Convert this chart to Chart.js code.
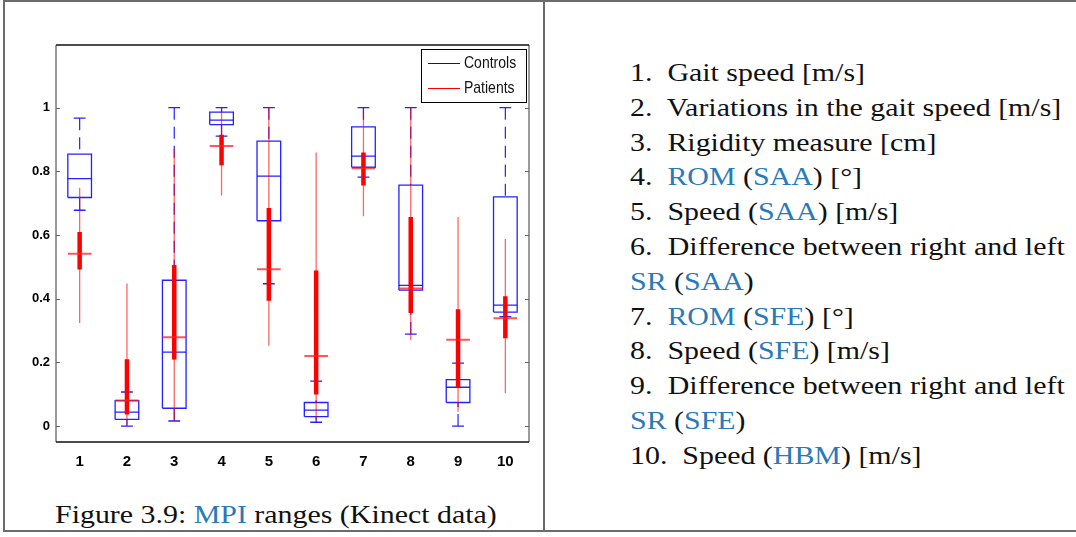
<!DOCTYPE html>
<html>
<head>
<meta charset="utf-8">
<script src="https://cdn.jsdelivr.net/npm/chart.js@4.4.1/dist/chart.umd.min.js"></script>
<style>
  body { margin: 0; background: #fff; }
  #page { position: relative; width: 1076px; height: 537px; overflow: hidden; }
  #frame { position: absolute; left: 3px; top: 0; width: 1080px; height: 528px; border: 2px solid #6b6b6b; border-right: none; }
  #divider { position: absolute; left: 543px; top: 0; width: 2px; height: 532px; background: #6b6b6b; }
  #chart { position: absolute; left: 0; top: 0; }
  .serif { font-family: "Liberation Serif", serif; font-size: 26px; color: #111; transform-origin: 0 0; transform: scaleX(1.15); }
  .acr { color: #2a7ab8; }
  #caption { position: absolute; left: 55px; top: 500px; white-space: nowrap; }
  #list { position: absolute; left: 630px; top: 56px; width: 378px; line-height: 34.8px; }
  #list div { white-space: nowrap; }
  #list .just { text-align: justify; text-align-last: justify; white-space: normal; }
</style>
</head>
<body>
<div id="page">
  <div id="frame"></div>
  <div id="divider"></div>
  <canvas id="chart" width="544" height="480"></canvas>
  <div id="caption" class="serif">Figure 3.9: <span class="acr">MPI</span> ranges (Kinect data)</div>
  <div id="list" class="serif">
    <div>1.&nbsp; Gait speed [m/s]</div>
    <div>2.&nbsp; Variations in the gait speed [m/s]</div>
    <div>3.&nbsp; Rigidity measure [cm]</div>
    <div>4.&nbsp; <span class="acr">ROM</span> (<span class="acr">SAA</span>) [°]</div>
    <div>5.&nbsp; Speed (<span class="acr">SAA</span>) [m/s]</div>
    <div class="just">6.&nbsp; Difference between right and left</div>
    <div><span class="acr">SR</span> (<span class="acr">SAA</span>)</div>
    <div>7.&nbsp; <span class="acr">ROM</span> (<span class="acr">SFE</span>) [°]</div>
    <div>8.&nbsp; Speed (<span class="acr">SFE</span>) [m/s]</div>
    <div class="just">9.&nbsp; Difference between right and left</div>
    <div><span class="acr">SR</span> (<span class="acr">SFE</span>)</div>
    <div>10.&nbsp; Speed (<span class="acr">HBM</span>) [m/s]</div>
  </div>
</div>
<script>
// data
const categories = [1, 2, 3, 4, 5, 6, 7, 8, 9, 10];
const yTickValues = [0, 0.2, 0.4, 0.6, 0.8, 1];

const ctrlMin = [0.678, 0.000, 0.016, 0.911, 0.447, 0.012, 0.782, 0.289, 0.000, 0.344];
const ctrlQ1  = [0.718, 0.021, 0.056, 0.947, 0.645, 0.030, 0.813, 0.427, 0.074, 0.358];
const ctrlMed = [0.777, 0.044, 0.232, 0.961, 0.785, 0.050, 0.848, 0.442, 0.122, 0.380];
const ctrlQ3  = [0.854, 0.080, 0.458, 0.986, 0.895, 0.074, 0.940, 0.757, 0.146, 0.720];
const ctrlMax = [0.967, 0.107, 1.000, 1.000, 1.000, 0.141, 1.000, 1.000, 0.198, 1.000];

const patMin = [0.324, 0.005, 0.016, 0.724, 0.252, 0.020, 0.659, 0.270, 0.045, 0.103];
const patQ1  = [0.492, 0.036, 0.209, 0.819, 0.394, 0.099, 0.756, 0.355, 0.122, 0.276];
const patMed = [0.541, 0.080, 0.279, 0.880, 0.493, 0.220, 0.810, 0.432, 0.271, 0.339];
const patQ3  = [0.610, 0.210, 0.506, 0.915, 0.685, 0.489, 0.859, 0.657, 0.367, 0.408];
const patMax = [0.749, 0.448, 0.871, 1.000, 1.000, 0.859, 1.000, 1.000, 0.657, 0.588];

const BLUE = 'rgba(10,10,255,0.9)';
const RED = 'rgb(255,0,0)';

// helpers turning the arrays into broken line paths (null = gap)
function vSegs(from, to) {
  const pts = [];
  categories.forEach((x, i) => { pts.push({x, y: from[i]}, {x, y: to[i]}, {x, y: null}); });
  return pts;
}
function hSegs(ys, half) {
  const pts = [];
  categories.forEach((x, i) => { pts.push({x: x - half, y: ys[i]}, {x: x + half, y: ys[i]}, {x, y: null}); });
  return pts;
}
function boxes(lo, hi, half) {
  const pts = [];
  categories.forEach((x, i) => {
    pts.push({x: x - half, y: lo[i]}, {x: x + half, y: lo[i]}, {x: x + half, y: hi[i]},
             {x: x - half, y: hi[i]}, {x: x - half, y: lo[i]}, {x, y: null});
  });
  return pts;
}

function lineSet(label, data, color, width, order, dash) {
  return {
    label, data, order,
    borderColor: color, borderWidth: width, borderDash: dash || [],
    borderCapStyle: 'butt', pointRadius: 0, pointHoverRadius: 0,
    showLine: true, spanGaps: false, fill: false, tension: 0
  };
}

const datasets = [
  lineSet('Patients median', hSegs(patMed, 0.25), 'rgba(255,30,30,0.75)', 2, 1),
  lineSet('Patients IQR', vSegs(patQ1, patQ3), RED, 4.5, 2),
  lineSet('Patients', vSegs(patMin, patMax), 'rgba(255,0,0,0.6)', 1.3, 3),
  lineSet('Controls median', hSegs(ctrlMed, 0.25), BLUE, 1.3, 4),
  lineSet('Controls box', boxes(ctrlQ1, ctrlQ3, 0.25), BLUE, 1.3, 5),
  lineSet('Controls caps', hSegs(ctrlMax, 0.125).concat(hSegs(ctrlMin, 0.125)), BLUE, 1.3, 6),
  lineSet('Controls', vSegs(ctrlMax, ctrlQ3).concat(vSegs(ctrlMin, ctrlQ1)), BLUE, 1.2, 7, [12, 7])
];

// axes frame, inside ticks and the legend box
const framePlugin = {
  id: 'frame',
  afterDraw(chart) {
    const {ctx, chartArea: a, scales} = chart;
    ctx.save();
    ctx.lineWidth = 1.5;
    ctx.strokeStyle = '#7a7a7a';
    ctx.beginPath();
    ctx.moveTo(a.left, a.top); ctx.lineTo(a.left, a.bottom);
    ctx.moveTo(a.right, a.top); ctx.lineTo(a.right, a.bottom);
    ctx.stroke();
    ctx.strokeStyle = '#111';
    ctx.beginPath();
    ctx.moveTo(a.left, a.top); ctx.lineTo(a.right, a.top);
    ctx.moveTo(a.left, a.bottom); ctx.lineTo(a.right, a.bottom);
    ctx.stroke();

    ctx.lineWidth = 1;
    ctx.strokeStyle = '#666';
    ctx.beginPath();
    yTickValues.forEach(v => {
      const y = Math.round(scales.y.getPixelForValue(v)) + 0.5;
      ctx.moveTo(a.left, y); ctx.lineTo(a.left + 4, y);
      ctx.moveTo(a.right, y); ctx.lineTo(a.right - 4, y);
    });
    ctx.stroke();

    // legend
    const bx = a.right - 108, by = a.top + 4, bw = 105, bh = 53;
    ctx.fillStyle = '#fff';
    ctx.fillRect(bx, by, bw, bh);
    ctx.strokeStyle = '#000';
    ctx.lineWidth = 1;
    ctx.strokeRect(bx + 0.5, by + 0.5, bw, bh);
    const items = [['Controls', 'rgb(0,0,255)'], ['Patients', 'rgb(255,0,0)']];
    items.forEach(([name, col], k) => {
      const y = by + 14.5 + k * 25;
      ctx.strokeStyle = col;
      ctx.beginPath(); ctx.moveTo(bx + 7, y); ctx.lineTo(bx + 39, y); ctx.stroke();
      ctx.save();
      ctx.translate(bx + 43, y);
      ctx.scale(1, 1.2);
      ctx.fillStyle = '#111';
      ctx.font = '14px "Liberation Sans", Arial, sans-serif';
      ctx.textBaseline = 'middle';
      ctx.fillText(name, 0, 0);
      ctx.restore();
    });
    ctx.restore();
  }
};

const fam = '"Liberation Sans", Arial, sans-serif';

new Chart(document.getElementById('chart'), {
  type: 'line',
  data: {datasets},
  plugins: [framePlugin],
  options: {
    responsive: false,
    devicePixelRatio: 1,
    animation: false,
    events: [],
    layout: {padding: {left: 10, top: 45, right: 15, bottom: 10}},
    plugins: {legend: {display: false}, tooltip: {enabled: false}},
    scales: {
      x: {
        type: 'linear', min: 0.5, max: 10.5, offset: false,
        grid: {display: false, drawTicks: false},
        border: {display: false},
        afterBuildTicks: s => { s.ticks = categories.map(v => ({value: v})); },
        afterFit: s => { s.height = 28; },
        ticks: {color: '#000', font: {family: fam, size: 15, weight: 'bold'}, padding: 11, maxRotation: 0, callback: v => String(v)}
      },
      y: {
        type: 'linear', min: -0.05, max: 1.197,
        grid: {display: false, drawTicks: false},
        border: {display: false},
        afterBuildTicks: s => { s.ticks = yTickValues.map(v => ({value: v})); },
        afterFit: s => { s.width = 46; },
        ticks: {color: '#000', font: {family: fam, size: 13, weight: 'bold'}, padding: 6, callback: v => String(v)}
      }
    }
  }
});
</script>
</body>
</html>
